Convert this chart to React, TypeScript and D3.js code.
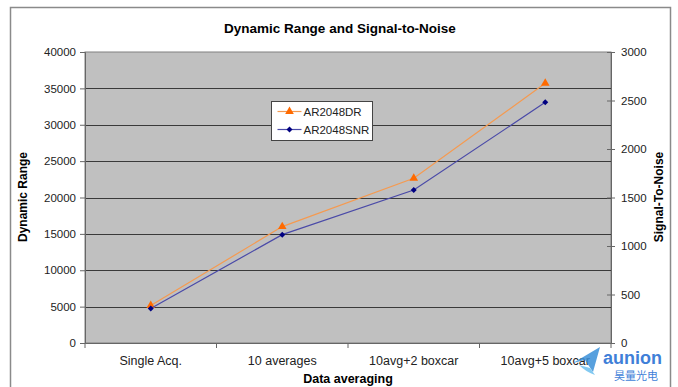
import { useRef, useEffect } from "react";
import * as d3 from "d3";

const categories = ["Single Acq.", "10 averages", "10avg+2 boxcar", "10avg+5 boxcar"];
const drValues = [5150, 16000, 22650, 35700];
const snrValues = [356, 1117, 1577, 2481];
const leftTicks = [0, 5000, 10000, 15000, 20000, 25000, 30000, 35000, 40000];
const rightTicks = [0, 500, 1000, 1500, 2000, 2500, 3000];

export default function App() {
  const ref = useRef<SVGSVGElement>(null);
  const width = 678;
  const height = 387;

  useEffect(() => {
    const svg = d3.select(ref.current);
    svg.selectAll("*").remove();
    const font = "Liberation Sans, Arial, sans-serif";

    const m = { left: 85, right: 611, top: 52, bottom: 343 };

    // outer frame
    svg.append("rect")
      .attr("x", 10.5).attr("y", 7.5)
      .attr("width", 660).attr("height", 400)
      .attr("fill", "#fff").attr("stroke", "#8a8a8a").attr("stroke-width", 1.5);

    const x = d3.scaleBand().domain(categories).range([m.left, m.right]);
    const yL = d3.scaleLinear().domain([0, 40000]).range([m.bottom, m.top]);
    const yR = d3.scaleLinear().domain([0, 3000]).range([m.bottom, m.top]);

    svg.append("rect")
      .attr("x", m.left).attr("y", m.top)
      .attr("width", m.right - m.left).attr("height", m.bottom - m.top)
      .attr("fill", "#c0c0c0").attr("stroke", "#808080").attr("stroke-width", 1);

    svg.append("g").selectAll("line")
      .data(leftTicks.slice(1, -1))
      .join("line")
      .attr("x1", m.left).attr("x2", m.right)
      .attr("y1", (d) => Math.round(yL(d)) + 0.5).attr("y2", (d) => Math.round(yL(d)) + 0.5)
      .attr("stroke", "#3a3a3a").attr("stroke-width", 1);

    // left axis
    const gl = svg.append("g").attr("transform", `translate(${m.left},0)`)
      .call(d3.axisLeft(yL).tickValues(leftTicks).tickSize(5).tickPadding(4).tickFormat(d3.format("d")));
    gl.select(".domain").attr("stroke", "#666");
    gl.selectAll("line").attr("stroke", "#666");
    gl.selectAll("text").attr("font-family", font).attr("font-size", 11.5).attr("fill", "#222");

    // right axis
    const gr = svg.append("g").attr("transform", `translate(${m.right},0)`)
      .call(d3.axisRight(yR).tickValues(rightTicks).tickSizeInner(4).tickSizeOuter(0).tickPadding(6).tickFormat(d3.format("d")));
    gr.select(".domain").attr("stroke", "#666");
    gr.selectAll(".tick line").attr("x1", -4).attr("stroke", "#666");
    gr.selectAll("text").attr("font-family", font).attr("font-size", 11.5).attr("fill", "#222");

    // bottom axis
    const gb = svg.append("g").attr("transform", `translate(0,${m.bottom})`)
      .call(d3.axisBottom(x).tickSize(0).tickPadding(13));
    gb.select(".domain").attr("stroke", "#666");
    gb.selectAll("text").attr("font-family", font).attr("font-size", 12.5).attr("fill", "#222");
    svg.append("g").selectAll("line")
      .data(categories.map((c) => x(c)!).concat([m.right]))
      .join("line")
      .attr("x1", (d) => d).attr("x2", (d) => d)
      .attr("y1", m.bottom).attr("y2", m.bottom + 5)
      .attr("stroke", "#666");

    const cx = (i: number) => x(categories[i])! + x.bandwidth() / 2;

    // DR series
    const lineDR = d3.line<number>().x((_, i) => cx(i)).y((d) => yL(d));
    svg.append("path").attr("d", lineDR(drValues)).attr("fill", "none")
      .attr("stroke", "#f59a50").attr("stroke-width", 1.2);
    const tri = d3.symbol().type(d3.symbolTriangle).size(32);
    svg.append("g").selectAll("path").data(drValues).join("path")
      .attr("d", tri).attr("transform", (d, i) => `translate(${cx(i)},${yL(d)})`)
      .attr("fill", "#ff6a00");

    // SNR series
    const lineSNR = d3.line<number>().x((_, i) => cx(i)).y((d) => yR(d));
    svg.append("path").attr("d", lineSNR(snrValues)).attr("fill", "none")
      .attr("stroke", "#4a4aa8").attr("stroke-width", 1.2);
    const dia = d3.symbol().type(d3.symbolSquare).size(18);
    svg.append("g").selectAll("path").data(snrValues).join("path")
      .attr("d", dia).attr("transform", (d, i) => `translate(${cx(i)},${yR(d)}) rotate(45)`)
      .attr("fill", "#000080");

    // legend
    const lg = svg.append("g").attr("transform", "translate(271.5,101.5)");
    lg.append("rect").attr("width", 101).attr("height", 39)
      .attr("fill", "#fff").attr("stroke", "#444").attr("stroke-width", 1);
    const items = [
      { label: "AR2048DR", color: "#f59a50", mark: "#ff6a00", sym: tri, rot: 0, y: 10 },
      { label: "AR2048SNR", color: "#4a4aa8", mark: "#000080", sym: dia, rot: 45, y: 28 },
    ];
    items.forEach((it) => {
      lg.append("line").attr("x1", 6).attr("x2", 30).attr("y1", it.y).attr("y2", it.y)
        .attr("stroke", it.color).attr("stroke-width", 1.2);
      lg.append("path").attr("d", it.sym).attr("transform", `translate(18,${it.y}) rotate(${it.rot})`).attr("fill", it.mark);
      lg.append("text").attr("x", 32).attr("y", it.y + 4)
        .attr("font-family", font).attr("font-size", 11.5).attr("fill", "#222").text(it.label);
    });

    // titles
    svg.append("text").attr("x", 340).attr("y", 33).attr("text-anchor", "middle")
      .attr("font-family", font).attr("font-size", 13.5).attr("font-weight", "bold")
      .text("Dynamic Range and Signal-to-Noise");
    svg.append("text").attr("transform", "translate(27,197) rotate(-90)").attr("text-anchor", "middle")
      .attr("font-family", font).attr("font-size", 12).attr("font-weight", "bold")
      .text("Dynamic Range");
    svg.append("text").attr("transform", "translate(663,197) rotate(-90)").attr("text-anchor", "middle")
      .attr("font-family", font).attr("font-size", 12).attr("font-weight", "bold")
      .text("Signal-To-Noise");
    svg.append("text").attr("x", 348).attr("y", 383).attr("text-anchor", "middle")
      .attr("font-family", font).attr("font-size", 12.5).attr("font-weight", "bold")
      .text("Data averaging");

    // watermark
    const wm = svg.append("g");
    wm.append("path").attr("d", "M573,363 L600,347 L593,372 L585,360 Z").attr("fill", "#3a8fd8").attr("opacity", 0.85);
    wm.append("path").attr("d", "M579,365 Q586,372 595,375 L590,368 Z").attr("fill", "#6cc0ee").attr("opacity", 0.85);
    wm.append("text").attr("x", 603).attr("y", 364).attr("font-family", font).attr("font-size", 18)
      .attr("font-weight", "bold").attr("fill", "#3f7fd8").text("aunion");
    wm.append("text").attr("x", 636).attr("y", 380).attr("text-anchor", "middle")
      .attr("font-family", "Noto Sans CJK SC, sans-serif").attr("font-size", 11).attr("fill", "#3f7fd8")
      .text("昊量光电");
  }, []);

  return (
    <svg ref={ref} width={width} height={height}
      style={{ position: "absolute", left: 0, top: 0, background: "#fff" }} />
  );
}
